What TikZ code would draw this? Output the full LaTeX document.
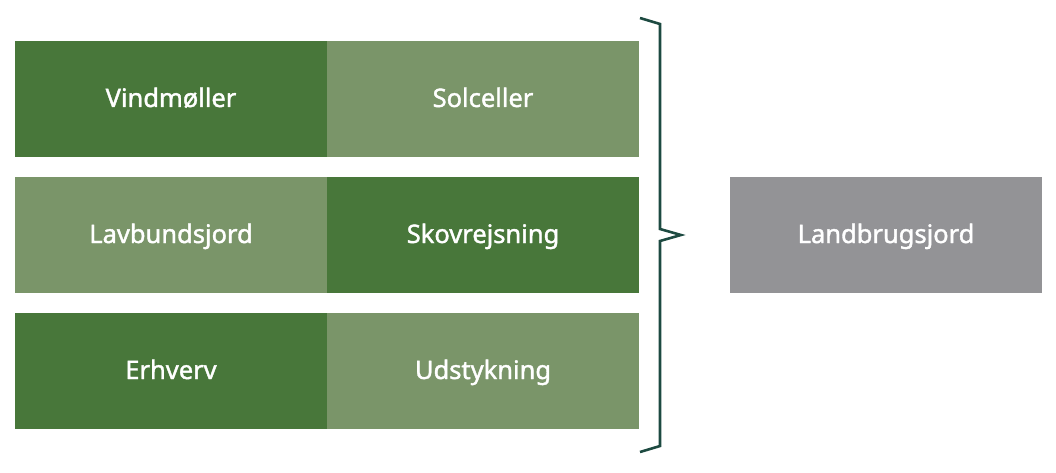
\documentclass[tikz,border=0pt]{standalone}
\usepackage{fontspec}
\setmainfont{Noto Sans}[FakeBold=1.5]
\definecolor{darkg}{HTML}{48773A}
\definecolor{lightg}{HTML}{7A9569}
\definecolor{grayb}{HTML}{939396}
\definecolor{bracec}{HTML}{1D4A41}
\begin{document}
\begin{tikzpicture}[x=1pt,y=-1pt,
  cell/.style={minimum width=312pt,minimum height=116pt,inner sep=0pt,outer sep=0pt,anchor=north west,text=white,text height=20pt,text depth=4pt,font=\fontsize{25.5}{30}\selectfont},
  darkcell/.style={cell,fill=darkg},
  lightcell/.style={cell,fill=lightg},
  graycell/.style={cell,fill=grayb},
  bracestyle/.style={draw=bracec,line width=2.6pt,line join=miter}]
\useasboundingbox (0,0) rectangle (1056,473);
\node[darkcell] (vind) at (15,41) {Vindmøller};
\node[lightcell] (sol) at (327,41) {Solceller};
\node[lightcell] (lav) at (15,177) {Lavbundsjord};
\node[darkcell] (skov) at (327,177) {Skovrejsning};
\node[darkcell] (erh) at (15,313) {Erhverv};
\node[lightcell] (ud) at (327,313) {Udstykning};
\node[graycell] (land) at (730,177) {Landbrugsjord};
\coordinate (b1) at (640,18);
\coordinate (b2) at (660,24);
\coordinate (b3) at (660,229);
\coordinate (tip) at (681,235);
\coordinate (b4) at (660,241);
\coordinate (b5) at (660,446);
\coordinate (b6) at (640,452);
\draw[bracestyle] (b1) -- (b2) -- (b3) -- (tip) -- (b4) -- (b5) -- (b6);
\end{tikzpicture}
\end{document}
